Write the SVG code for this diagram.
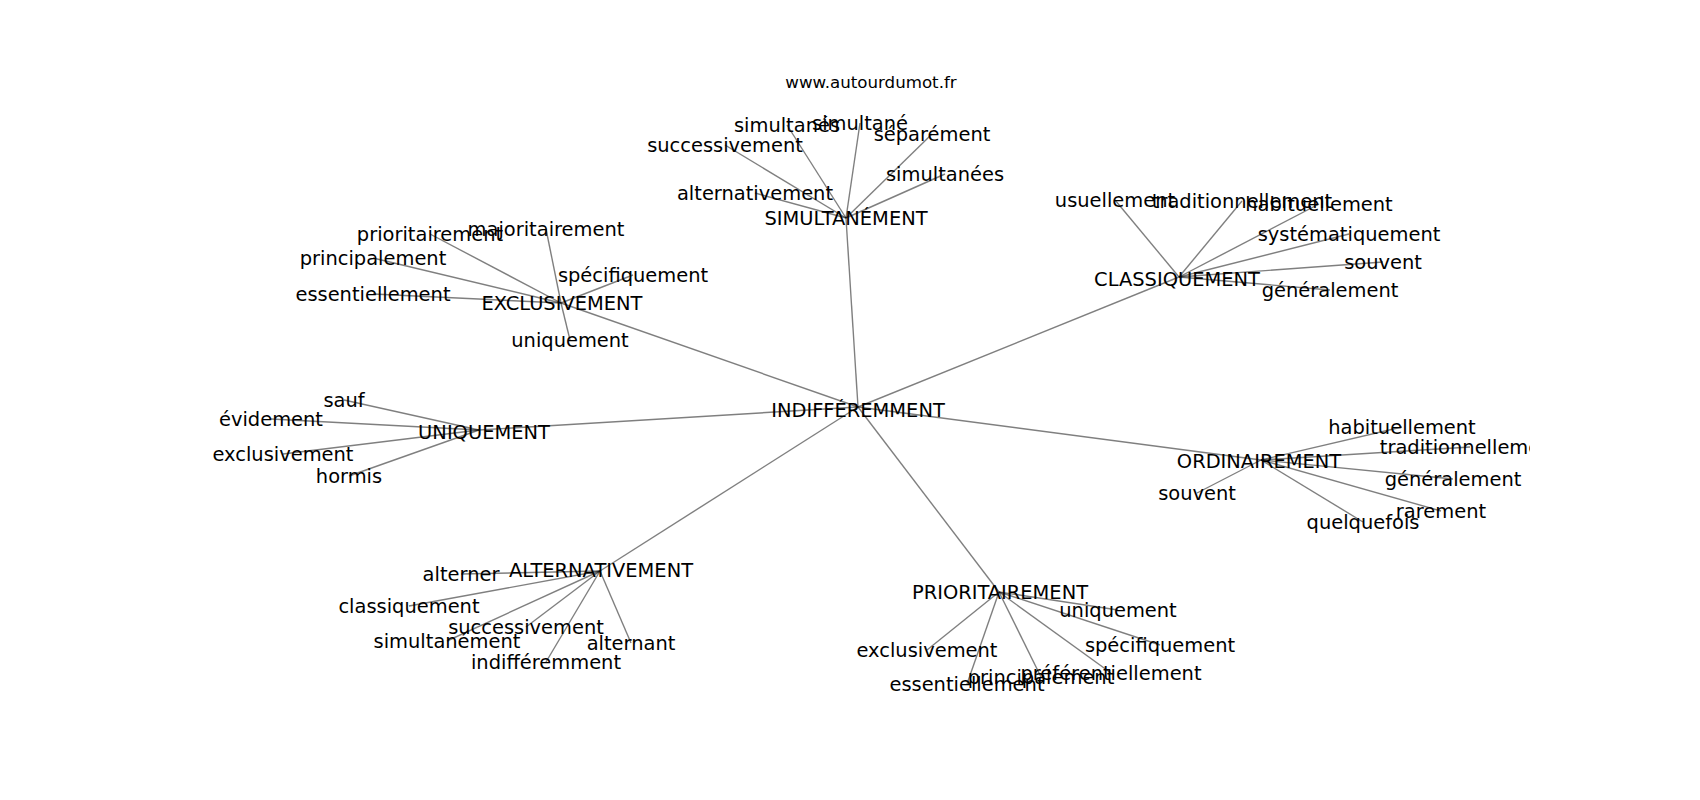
<svg xmlns="http://www.w3.org/2000/svg" width="1700" height="800" viewBox="0 0 1700 800">
<style>
.e{stroke:#000;stroke-opacity:0.5;stroke-width:1.4;fill:none}
.t{font-family:"DejaVu Sans","Liberation Sans",sans-serif;font-size:19.44px;fill:#000;text-anchor:middle}
.title{font-family:"DejaVu Sans","Liberation Sans",sans-serif;font-size:16.67px;fill:#000;text-anchor:middle}
</style>
<defs><clipPath id="ax"><rect x="212.5" y="96" width="1317.5" height="616"/></clipPath></defs>
<rect width="1700" height="800" fill="#fff"/>
<text class="title" x="871" y="87.5">www.autourdumot.fr</text>
<g clip-path="url(#ax)">
<g id="connectors">
<line class="e" x1="858" y1="407" x2="846" y2="218"/>
<line class="e" x1="858" y1="407" x2="561" y2="303"/>
<line class="e" x1="858" y1="407" x2="1179" y2="277"/>
<line class="e" x1="858" y1="407" x2="479" y2="430"/>
<line class="e" x1="858" y1="407" x2="1261" y2="460"/>
<line class="e" x1="858" y1="407" x2="600" y2="571"/>
<line class="e" x1="858" y1="407" x2="999" y2="592"/>
<line class="e" x1="846" y1="218" x2="787" y2="125"/>
<line class="e" x1="846" y1="218" x2="860" y2="123"/>
<line class="e" x1="846" y1="218" x2="932" y2="134"/>
<line class="e" x1="846" y1="218" x2="725" y2="145"/>
<line class="e" x1="846" y1="218" x2="945" y2="174"/>
<line class="e" x1="846" y1="218" x2="755" y2="193"/>
<line class="e" x1="561" y1="303" x2="430" y2="234"/>
<line class="e" x1="561" y1="303" x2="546" y2="229"/>
<line class="e" x1="561" y1="303" x2="373" y2="258"/>
<line class="e" x1="561" y1="303" x2="373" y2="294"/>
<line class="e" x1="561" y1="303" x2="633" y2="275"/>
<line class="e" x1="561" y1="303" x2="570" y2="340"/>
<line class="e" x1="1179" y1="277" x2="1115" y2="200"/>
<line class="e" x1="1179" y1="277" x2="1242" y2="201"/>
<line class="e" x1="1179" y1="277" x2="1319" y2="204"/>
<line class="e" x1="1179" y1="277" x2="1349" y2="234"/>
<line class="e" x1="1179" y1="277" x2="1383" y2="262"/>
<line class="e" x1="1179" y1="277" x2="1330" y2="290"/>
<line class="e" x1="479" y1="430" x2="344" y2="400"/>
<line class="e" x1="479" y1="430" x2="271" y2="419"/>
<line class="e" x1="479" y1="430" x2="283" y2="454"/>
<line class="e" x1="479" y1="430" x2="349" y2="476"/>
<line class="e" x1="1261" y1="460" x2="1402" y2="427"/>
<line class="e" x1="1261" y1="460" x2="1470" y2="447"/>
<line class="e" x1="1261" y1="460" x2="1453" y2="479"/>
<line class="e" x1="1261" y1="460" x2="1197" y2="493"/>
<line class="e" x1="1261" y1="460" x2="1441" y2="511"/>
<line class="e" x1="1261" y1="460" x2="1363" y2="522"/>
<line class="e" x1="600" y1="571" x2="461" y2="574"/>
<line class="e" x1="600" y1="571" x2="409" y2="606"/>
<line class="e" x1="600" y1="571" x2="526" y2="627"/>
<line class="e" x1="600" y1="571" x2="447" y2="641"/>
<line class="e" x1="600" y1="571" x2="546" y2="662"/>
<line class="e" x1="600" y1="571" x2="631" y2="643"/>
<line class="e" x1="999" y1="592" x2="1118" y2="610"/>
<line class="e" x1="999" y1="592" x2="927" y2="650"/>
<line class="e" x1="999" y1="592" x2="1160" y2="645"/>
<line class="e" x1="999" y1="592" x2="967" y2="684"/>
<line class="e" x1="999" y1="592" x2="1041" y2="677"/>
<line class="e" x1="999" y1="592" x2="1111" y2="673"/>
</g>
<g transform="translate(0,1.5)">
<g id="n-indifferemment"><text class="t" x="858" y="415.5">INDIFFÉREMMENT</text></g>
<g id="n-simultanement"><text class="t" x="846" y="223.5">SIMULTANÉMENT</text></g>
<g id="n-exclusivement"><text class="t" x="562" y="308.5">EXCLUSIVEMENT</text></g>
<g id="n-classiquement"><text class="t" x="1177" y="284">CLASSIQUEMENT</text></g>
<g id="n-uniquement"><text class="t" x="484" y="437">UNIQUEMENT</text></g>
<g id="n-ordinairement"><text class="t" x="1259" y="466">ORDINAIREMENT</text></g>
<g id="n-alternativement"><text class="t" x="601" y="575">ALTERNATIVEMENT</text></g>
<g id="n-prioritairement"><text class="t" x="1000" y="597">PRIORITAIREMENT</text></g>
<g id="n-sim-simultanes"><text class="t" x="787" y="130.5">simultanés</text></g>
<g id="n-sim-simultane"><text class="t" x="860" y="128.5">simultané</text></g>
<g id="n-sim-separement"><text class="t" x="932" y="139.5">séparément</text></g>
<g id="n-sim-successivement"><text class="t" x="725" y="150.5">successivement</text></g>
<g id="n-sim-simultanees"><text class="t" x="945" y="179.5">simultanées</text></g>
<g id="n-sim-alternativement"><text class="t" x="755" y="198.5">alternativement</text></g>
<g id="n-exc-prioritairement"><text class="t" x="430" y="239.5">prioritairement</text></g>
<g id="n-exc-majoritairement"><text class="t" x="546" y="234.5">majoritairement</text></g>
<g id="n-exc-principalement"><text class="t" x="373" y="263.5">principalement</text></g>
<g id="n-exc-essentiellement"><text class="t" x="373" y="299.5">essentiellement</text></g>
<g id="n-exc-specifiquement"><text class="t" x="633" y="280.5">spécifiquement</text></g>
<g id="n-exc-uniquement"><text class="t" x="570" y="345.5">uniquement</text></g>
<g id="n-cla-usuellement"><text class="t" x="1115" y="205.5">usuellement</text></g>
<g id="n-cla-traditionnellement"><text class="t" x="1242" y="206.5">traditionnellement</text></g>
<g id="n-cla-habituellement"><text class="t" x="1319" y="209.5">habituellement</text></g>
<g id="n-cla-systematiquement"><text class="t" x="1349" y="239.5">systématiquement</text></g>
<g id="n-cla-souvent"><text class="t" x="1383" y="267.5">souvent</text></g>
<g id="n-cla-generalement"><text class="t" x="1330" y="295.5">généralement</text></g>
<g id="n-uni-sauf"><text class="t" x="344" y="405.5">sauf</text></g>
<g id="n-uni-evidement"><text class="t" x="271" y="424.5">évidement</text></g>
<g id="n-uni-exclusivement"><text class="t" x="283" y="459.5">exclusivement</text></g>
<g id="n-uni-hormis"><text class="t" x="349" y="481.5">hormis</text></g>
<g id="n-ord-habituellement"><text class="t" x="1402" y="432.5">habituellement</text></g>
<g id="n-ord-traditionnellement"><text class="t" x="1470" y="452.5">traditionnellement</text></g>
<g id="n-ord-generalement"><text class="t" x="1453" y="484.5">généralement</text></g>
<g id="n-ord-souvent"><text class="t" x="1197" y="498.5">souvent</text></g>
<g id="n-ord-rarement"><text class="t" x="1441" y="516.5">rarement</text></g>
<g id="n-ord-quelquefois"><text class="t" x="1363" y="527.5">quelquefois</text></g>
<g id="n-alt-alterner"><text class="t" x="461" y="579.5">alterner</text></g>
<g id="n-alt-classiquement"><text class="t" x="409" y="611.5">classiquement</text></g>
<g id="n-alt-successivement"><text class="t" x="526" y="632.5">successivement</text></g>
<g id="n-alt-simultanement"><text class="t" x="447" y="646.5">simultanément</text></g>
<g id="n-alt-indifferemment"><text class="t" x="546" y="667.5">indifféremment</text></g>
<g id="n-alt-alternant"><text class="t" x="631" y="648.5">alternant</text></g>
<g id="n-pri-uniquement"><text class="t" x="1118" y="615.5">uniquement</text></g>
<g id="n-pri-exclusivement"><text class="t" x="927" y="655.5">exclusivement</text></g>
<g id="n-pri-specifiquement"><text class="t" x="1160" y="650.5">spécifiquement</text></g>
<g id="n-pri-essentiellement"><text class="t" x="967" y="689.5">essentiellement</text></g>
<g id="n-pri-principalement"><text class="t" x="1041" y="682.5">principalement</text></g>
<g id="n-pri-preferentiellement"><text class="t" x="1111" y="678.5">préférentiellement</text></g>
</g>
</g>
</svg>
